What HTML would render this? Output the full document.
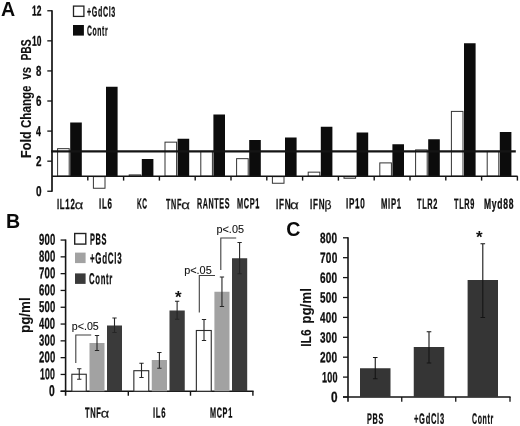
<!DOCTYPE html>
<html><head><meta charset="utf-8"><title>Figure</title>
<style>
html,body{margin:0;padding:0;background:#fff;}
#w{position:relative;width:520px;height:426px;overflow:hidden;will-change:transform;}
svg{display:block;}
text{font-family:'Liberation Sans', sans-serif;fill:#0e0e0e;}
.c{position:absolute;white-space:nowrap;font-family:'Liberation Sans', sans-serif;font-weight:bold;font-size:14.2px;line-height:1;color:#0e0e0e;transform-origin:0 0;-webkit-text-stroke:.3px #0e0e0e;}
.k{display:inline-block;transform-origin:0 50%;font-weight:normal;font-size:12.4px;letter-spacing:0;color:#1a1a1a;-webkit-text-stroke:.25px #1a1a1a;position:relative;top:.2px;}
.pl{font-weight:bold;font-size:19.6px;fill:#0a0a0a;}
.yl{font-size:14.2px;font-weight:bold;fill:#111;stroke:#111;stroke-width:.1px;}
.p{fill:#111;stroke:#111;stroke-width:.1px;}
.st{font-weight:bold;font-size:17px;text-anchor:middle;fill:#111;}
.ax{stroke:#141414;fill:none;}
</style></head>
<body>
<div id="w">
<svg width="520" height="426" viewBox="0 0 520 426">
<rect width="520" height="426" fill="#fff"/>
<text class="pl" x="1.1" y="15.5">A</text>
<line class="ax" x1="52.0" y1="10.17" x2="52.0" y2="191.85" stroke-width="1.7"/>
<line class="ax" x1="47.3" y1="191.25" x2="52.0" y2="191.25" stroke-width="1.3"/>
<line class="ax" x1="47.3" y1="161.17" x2="52.0" y2="161.17" stroke-width="1.3"/>
<line class="ax" x1="47.3" y1="131.09" x2="52.0" y2="131.09" stroke-width="1.3"/>
<line class="ax" x1="47.3" y1="101.01" x2="52.0" y2="101.01" stroke-width="1.3"/>
<line class="ax" x1="47.3" y1="70.93" x2="52.0" y2="70.93" stroke-width="1.3"/>
<line class="ax" x1="47.3" y1="40.85" x2="52.0" y2="40.85" stroke-width="1.3"/>
<line class="ax" x1="47.3" y1="10.77" x2="52.0" y2="10.77" stroke-width="1.3"/>
<rect x="73.5" y="6.1" width="10.4" height="10.3" fill="#fff" stroke="#222" stroke-width="1.3"/>
<rect x="73" y="25" width="10.9" height="10.6" fill="#0c0c0c"/>
<rect x="57.60" y="148.65" width="11.60" height="27.56" fill="#fff" stroke="#333" stroke-width="1"/>
<rect x="70.20" y="122.50" width="11.60" height="53.71" fill="#0c0c0c"/>
<rect x="93.40" y="176.61" width="11.60" height="11.64" fill="#fff" stroke="#333" stroke-width="1"/>
<rect x="106.00" y="86.75" width="11.60" height="89.46" fill="#0c0c0c"/>
<rect x="129.20" y="174.90" width="11.60" height="1.31" fill="#fff" stroke="#333" stroke-width="1"/>
<rect x="141.80" y="159.00" width="11.60" height="17.21" fill="#0c0c0c"/>
<rect x="165.00" y="142.15" width="11.60" height="34.06" fill="#fff" stroke="#333" stroke-width="1"/>
<rect x="177.60" y="138.75" width="11.60" height="37.46" fill="#0c0c0c"/>
<rect x="200.80" y="151.40" width="11.60" height="24.81" fill="#fff" stroke="#333" stroke-width="1"/>
<rect x="213.40" y="114.50" width="11.60" height="61.71" fill="#0c0c0c"/>
<rect x="236.60" y="158.65" width="11.60" height="17.56" fill="#fff" stroke="#333" stroke-width="1"/>
<rect x="249.20" y="140.00" width="11.60" height="36.21" fill="#0c0c0c"/>
<rect x="272.40" y="176.61" width="11.60" height="6.64" fill="#fff" stroke="#333" stroke-width="1"/>
<rect x="285.00" y="137.50" width="11.60" height="38.71" fill="#0c0c0c"/>
<rect x="308.20" y="172.15" width="11.60" height="4.06" fill="#fff" stroke="#333" stroke-width="1"/>
<rect x="320.80" y="126.75" width="11.60" height="49.46" fill="#0c0c0c"/>
<rect x="344.00" y="176.61" width="11.60" height="1.64" fill="#fff" stroke="#333" stroke-width="1"/>
<rect x="356.60" y="132.50" width="11.60" height="43.71" fill="#0c0c0c"/>
<rect x="379.80" y="162.90" width="11.60" height="13.31" fill="#fff" stroke="#333" stroke-width="1"/>
<rect x="392.40" y="144.25" width="11.60" height="31.96" fill="#0c0c0c"/>
<rect x="415.60" y="149.90" width="11.60" height="26.31" fill="#fff" stroke="#333" stroke-width="1"/>
<rect x="428.20" y="139.25" width="11.60" height="36.96" fill="#0c0c0c"/>
<rect x="451.40" y="111.40" width="11.60" height="64.81" fill="#fff" stroke="#333" stroke-width="1"/>
<rect x="464.00" y="43.25" width="11.60" height="132.96" fill="#0c0c0c"/>
<rect x="487.20" y="151.40" width="11.60" height="24.81" fill="#fff" stroke="#333" stroke-width="1"/>
<rect x="499.80" y="132.00" width="11.60" height="44.21" fill="#0c0c0c"/>
<line class="ax" x1="52.0" y1="176.21" x2="517.6" y2="176.21" stroke-width="1.4"/>
<line class="ax" x1="87.80" y1="176.21" x2="87.80" y2="180.61" stroke-width="1.4"/>
<line class="ax" x1="123.60" y1="176.21" x2="123.60" y2="180.61" stroke-width="1.4"/>
<line class="ax" x1="159.40" y1="176.21" x2="159.40" y2="180.61" stroke-width="1.4"/>
<line class="ax" x1="195.20" y1="176.21" x2="195.20" y2="180.61" stroke-width="1.4"/>
<line class="ax" x1="231.00" y1="176.21" x2="231.00" y2="180.61" stroke-width="1.4"/>
<line class="ax" x1="266.80" y1="176.21" x2="266.80" y2="180.61" stroke-width="1.4"/>
<line class="ax" x1="302.60" y1="176.21" x2="302.60" y2="180.61" stroke-width="1.4"/>
<line class="ax" x1="338.40" y1="176.21" x2="338.40" y2="180.61" stroke-width="1.4"/>
<line class="ax" x1="374.20" y1="176.21" x2="374.20" y2="180.61" stroke-width="1.4"/>
<line class="ax" x1="410.00" y1="176.21" x2="410.00" y2="180.61" stroke-width="1.4"/>
<line class="ax" x1="445.80" y1="176.21" x2="445.80" y2="180.61" stroke-width="1.4"/>
<line class="ax" x1="481.60" y1="176.21" x2="481.60" y2="180.61" stroke-width="1.4"/>
<line class="ax" x1="517.40" y1="176.21" x2="517.40" y2="180.61" stroke-width="1.4"/>
<line class="ax" x1="51.2" y1="151.4" x2="515.8" y2="151.4" stroke-width="2.3"/>
<text class="yl" transform="translate(31.2 158) rotate(-90)"><tspan x="0" textLength="26.6" lengthAdjust="spacingAndGlyphs">Fold</tspan> <tspan x="30" textLength="42.5" lengthAdjust="spacingAndGlyphs">Change</tspan> <tspan x="78.5" textLength="12.5" lengthAdjust="spacingAndGlyphs">vs</tspan> <tspan x="97.5" textLength="21" lengthAdjust="spacingAndGlyphs">PBS</tspan></text>
<text class="pl" x="5.9" y="228.2">B</text>
<line class="ax" x1="65.6" y1="239.45" x2="65.6" y2="395.75" stroke-width="1.6"/>
<line class="ax" x1="60.6" y1="391.25" x2="65.6" y2="391.25" stroke-width="1.3"/>
<line class="ax" x1="60.6" y1="374.45" x2="65.6" y2="374.45" stroke-width="1.3"/>
<line class="ax" x1="60.6" y1="357.65" x2="65.6" y2="357.65" stroke-width="1.3"/>
<line class="ax" x1="60.6" y1="340.85" x2="65.6" y2="340.85" stroke-width="1.3"/>
<line class="ax" x1="60.6" y1="324.05" x2="65.6" y2="324.05" stroke-width="1.3"/>
<line class="ax" x1="60.6" y1="307.25" x2="65.6" y2="307.25" stroke-width="1.3"/>
<line class="ax" x1="60.6" y1="290.45" x2="65.6" y2="290.45" stroke-width="1.3"/>
<line class="ax" x1="60.6" y1="273.65" x2="65.6" y2="273.65" stroke-width="1.3"/>
<line class="ax" x1="60.6" y1="256.85" x2="65.6" y2="256.85" stroke-width="1.3"/>
<line class="ax" x1="60.6" y1="240.05" x2="65.6" y2="240.05" stroke-width="1.3"/>
<line class="ax" x1="60.6" y1="391.25" x2="253.6" y2="391.25" stroke-width="1.7"/>
<line class="ax" x1="128.3" y1="391.25" x2="128.3" y2="395.75" stroke-width="1.4"/>
<line class="ax" x1="190.5" y1="391.25" x2="190.5" y2="395.75" stroke-width="1.4"/>
<line class="ax" x1="252.9" y1="391.25" x2="252.9" y2="395.75" stroke-width="1.4"/>
<text class="yl" style="font-size:15px" transform="translate(29.9 333) rotate(-90)" textLength="35.6" lengthAdjust="spacingAndGlyphs">pg/ml</text>
<rect x="74.7" y="233.5" width="11.1" height="10.6" fill="#fff" stroke="#222" stroke-width="1.4"/>
<rect x="75" y="252.6" width="10.6" height="10.5" fill="#a2a2a2"/>
<rect x="75" y="273.4" width="10.6" height="10.5" fill="#3a3a3a"/>
<rect x="71.85" y="374.25" width="14.40" height="17.00" fill="#fff" stroke="#2a2a2a" stroke-width="1.1"/>
<path d="M79.25 368.75V379.25M77.10 368.75H81.40M77.10 379.25H81.40" stroke="#262626" stroke-width="1.1" fill="none"/>
<rect x="89.50" y="343.00" width="15.00" height="48.25" fill="#a2a2a2"/>
<path d="M97.00 335.50V350.50M94.85 335.50H99.15M94.85 350.50H99.15" stroke="#262626" stroke-width="1.1" fill="none"/>
<rect x="107.00" y="325.50" width="15.00" height="65.75" fill="#3a3a3a"/>
<path d="M114.50 318.00V332.50M112.35 318.00H116.65M112.35 332.50H116.65" stroke="#262626" stroke-width="1.1" fill="none"/>
<rect x="133.85" y="370.70" width="14.90" height="20.55" fill="#fff" stroke="#2a2a2a" stroke-width="1.1"/>
<path d="M141.50 363.25V377.50M139.35 363.25H143.65M139.35 377.50H143.65" stroke="#262626" stroke-width="1.1" fill="none"/>
<rect x="151.75" y="360.00" width="15.25" height="31.25" fill="#a2a2a2"/>
<path d="M159.38 352.50V368.25M157.22 352.50H161.53M157.22 368.25H161.53" stroke="#262626" stroke-width="1.1" fill="none"/>
<rect x="169.50" y="310.50" width="15.25" height="80.75" fill="#3a3a3a"/>
<path d="M177.12 301.25V319.25M174.97 301.25H179.28M174.97 319.25H179.28" stroke="#262626" stroke-width="1.1" fill="none"/>
<rect x="196.35" y="330.50" width="14.90" height="60.75" fill="#fff" stroke="#2a2a2a" stroke-width="1.1"/>
<path d="M204.00 319.50V340.50M201.85 319.50H206.15M201.85 340.50H206.15" stroke="#262626" stroke-width="1.1" fill="none"/>
<rect x="214.40" y="291.75" width="15.10" height="99.50" fill="#a2a2a2"/>
<path d="M221.95 277.00V306.50M219.80 277.00H224.10M219.80 306.50H224.10" stroke="#262626" stroke-width="1.1" fill="none"/>
<rect x="232.00" y="258.25" width="15.20" height="133.00" fill="#3a3a3a"/>
<path d="M239.60 242.50V273.75M237.45 242.50H241.75M237.45 273.75H241.75" stroke="#262626" stroke-width="1.1" fill="none"/>
<path d="M75.8 363V335H91.2" stroke="#404040" stroke-width="1.1" fill="none"/>
<path d="M199.3 312.5V275.5H215" stroke="#404040" stroke-width="1.1" fill="none"/>
<path d="M220.8 270V238H236.2" stroke="#404040" stroke-width="1.1" fill="none"/>
<text class="p" transform="translate(71.82 329.90) scale(0.9855 1)" font-size="10.8">p&lt;.05</text>
<text class="p" transform="translate(184.20 273.70) scale(1.0084 1)" font-size="10.8">p&lt;.05</text>
<text class="p" transform="translate(216.51 232.90) scale(1.0046 1)" font-size="10.8">p&lt;.05</text>
<text class="st" x="178.3" y="302.8">*</text>
<text class="pl" x="286.2" y="236.2">C</text>
<line class="ax" x1="348.0" y1="237.20" x2="348.0" y2="401.70" stroke-width="1.6"/>
<line class="ax" x1="343" y1="397.00" x2="348.0" y2="397.00" stroke-width="1.3"/>
<line class="ax" x1="343" y1="377.10" x2="348.0" y2="377.10" stroke-width="1.3"/>
<line class="ax" x1="343" y1="357.20" x2="348.0" y2="357.20" stroke-width="1.3"/>
<line class="ax" x1="343" y1="337.30" x2="348.0" y2="337.30" stroke-width="1.3"/>
<line class="ax" x1="343" y1="317.40" x2="348.0" y2="317.40" stroke-width="1.3"/>
<line class="ax" x1="343" y1="297.50" x2="348.0" y2="297.50" stroke-width="1.3"/>
<line class="ax" x1="343" y1="277.60" x2="348.0" y2="277.60" stroke-width="1.3"/>
<line class="ax" x1="343" y1="257.70" x2="348.0" y2="257.70" stroke-width="1.3"/>
<line class="ax" x1="343" y1="237.80" x2="348.0" y2="237.80" stroke-width="1.3"/>
<line class="ax" x1="343" y1="397.00" x2="510.6" y2="397.00" stroke-width="1.5"/>
<line class="ax" x1="401.75" y1="397.00" x2="401.75" y2="401.70" stroke-width="1.3"/>
<line class="ax" x1="455.75" y1="397.00" x2="455.75" y2="401.70" stroke-width="1.3"/>
<line class="ax" x1="510.0" y1="397.00" x2="510.0" y2="401.70" stroke-width="1.3"/>
<text class="yl" style="font-size:15px" transform="translate(310.6 346.8) rotate(-90)"><tspan x="0" textLength="17.4" lengthAdjust="spacingAndGlyphs">IL6</tspan> <tspan x="23.05" textLength="35.6" lengthAdjust="spacingAndGlyphs">pg/ml</tspan></text>
<rect x="360.00" y="368.25" width="30.50" height="28.75" fill="#353535"/>
<path d="M375.25 357.50V378.75M372.95 357.50H377.55M372.95 378.75H377.55" stroke="#141414" stroke-width="1.1" fill="none"/>
<rect x="413.75" y="347.00" width="30.50" height="50.00" fill="#353535"/>
<path d="M429.00 331.75V363.00M426.70 331.75H431.30M426.70 363.00H431.30" stroke="#141414" stroke-width="1.1" fill="none"/>
<rect x="467.60" y="280.00" width="30.40" height="117.00" fill="#353535"/>
<path d="M482.80 243.75V317.50M480.50 243.75H485.10M480.50 317.50H485.10" stroke="#141414" stroke-width="1.1" fill="none"/>
<text class="st" x="479.4" y="243.1">*</text>
</svg>
<span class="c" style="font-size:14.2px;left:36.05px;top:184px;transform:translateY(0.05px) scaleX(0.7042) rotate(.03deg);letter-spacing:0.00px">0</span>
<span class="c" style="font-size:14.2px;left:36.10px;top:153px;transform:translateY(0.97px) scaleX(0.6954) rotate(.03deg);letter-spacing:0.00px">2</span>
<span class="c" style="font-size:14.2px;left:36.32px;top:123px;transform:translateY(0.89px) scaleX(0.6241) rotate(.03deg);letter-spacing:0.00px">4</span>
<span class="c" style="font-size:14.2px;left:36.09px;top:93px;transform:translateY(0.81px) scaleX(0.6926) rotate(.03deg);letter-spacing:0.00px">6</span>
<span class="c" style="font-size:14.2px;left:36.14px;top:63px;transform:translateY(0.73px) scaleX(0.6785) rotate(.03deg);letter-spacing:0.00px">8</span>
<span class="c" style="font-size:14.2px;left:32.17px;top:33px;transform:translateY(0.65px) scaleX(0.5938) rotate(.03deg);letter-spacing:0.00px">10</span>
<span class="c" style="font-size:14.2px;left:32.17px;top:3px;transform:translateY(0.57px) scaleX(0.5933) rotate(.03deg);letter-spacing:0.00px">12</span>
<span class="c" style="font-size:14.2px;left:87.45px;top:4px;transform:translateY(0.60px) scaleX(0.5010) rotate(.03deg);letter-spacing:1.28px">+GdCl3</span>
<span class="c" style="font-size:14.2px;left:86.97px;top:23px;transform:translateY(0.40px) scaleX(0.4802) rotate(.03deg);letter-spacing:1.28px">Contr</span>
<span class="c" style="font-size:14.6px;left:56.58px;top:196px;transform:translateY(0.90px) scaleX(0.5349) rotate(.03deg);letter-spacing:1.31px">IL12<span class="k" style="margin-left:-1.56px;transform:scaleX(2.2303)">α</span></span>
<span class="c" style="font-size:14.6px;left:99.07px;top:196px;transform:translateY(0.60px) scaleX(0.5468) rotate(.03deg);letter-spacing:1.31px">IL6</span>
<span class="c" style="font-size:14.6px;left:136.56px;top:196px;transform:translateY(0.60px) scaleX(0.4519) rotate(.03deg);letter-spacing:1.31px">KC</span>
<span class="c" style="font-size:14.6px;left:165.67px;top:196px;transform:translateY(0.90px) scaleX(0.4932) rotate(.03deg);letter-spacing:1.31px">TNF<span class="k" style="margin-left:-1.70px;transform:scaleX(2.4348)">α</span></span>
<span class="c" style="font-size:14.6px;left:196.52px;top:196px;transform:translateY(0.20px) scaleX(0.4881) rotate(.03deg);letter-spacing:1.31px">RANTES</span>
<span class="c" style="font-size:14.6px;left:237.01px;top:196px;transform:translateY(0.20px) scaleX(0.5045) rotate(.03deg);letter-spacing:1.31px">MCP1</span>
<span class="c" style="font-size:14.6px;left:275.95px;top:197px;transform:translateY(0.00px) scaleX(0.5580) rotate(.03deg);letter-spacing:1.31px">IFN<span class="k" style="margin-left:-2.26px;transform:scaleX(2.1806)">α</span></span>
<span class="c" style="font-size:14.6px;left:310.06px;top:197px;transform:translateY(0.00px) scaleX(0.5539) rotate(.03deg);letter-spacing:1.31px">IFN<span class="k" style="margin-left:-1.28px;transform:scaleX(1.7771)">β</span></span>
<span class="c" style="font-size:14.6px;left:346.46px;top:196px;transform:translateY(0.20px) scaleX(0.5556) rotate(.03deg);letter-spacing:1.31px">IP10</span>
<span class="c" style="font-size:14.6px;left:380.74px;top:196px;transform:translateY(0.50px) scaleX(0.5255) rotate(.03deg);letter-spacing:1.31px">MIP1</span>
<span class="c" style="font-size:14.6px;left:417.42px;top:196px;transform:translateY(0.70px) scaleX(0.5038) rotate(.03deg);letter-spacing:1.31px">TLR2</span>
<span class="c" style="font-size:14.6px;left:453.67px;top:196px;transform:translateY(0.70px) scaleX(0.5033) rotate(.03deg);letter-spacing:1.31px">TLR9</span>
<span class="c" style="font-size:14.6px;left:483.93px;top:196px;transform:translateY(0.70px) scaleX(0.5836) rotate(.03deg);letter-spacing:1.31px">Myd88</span>
<span class="c" style="font-size:15.6px;left:49.39px;top:382px;transform:translateY(0.95px) scaleX(0.6613) rotate(.03deg);letter-spacing:0.31px">0</span>
<span class="c" style="font-size:15.6px;left:40.05px;top:366px;transform:translateY(0.15px) scaleX(0.5635) rotate(.03deg);letter-spacing:0.31px">100</span>
<span class="c" style="font-size:15.6px;left:38.77px;top:349px;transform:translateY(0.35px) scaleX(0.6127) rotate(.03deg);letter-spacing:0.31px">200</span>
<span class="c" style="font-size:15.6px;left:38.88px;top:332px;transform:translateY(0.55px) scaleX(0.6083) rotate(.03deg);letter-spacing:0.31px">300</span>
<span class="c" style="font-size:15.6px;left:38.96px;top:315px;transform:translateY(0.75px) scaleX(0.6053) rotate(.03deg);letter-spacing:0.31px">400</span>
<span class="c" style="font-size:15.6px;left:38.80px;top:298px;transform:translateY(0.95px) scaleX(0.6112) rotate(.03deg);letter-spacing:0.31px">500</span>
<span class="c" style="font-size:15.6px;left:38.75px;top:282px;transform:translateY(0.15px) scaleX(0.6135) rotate(.03deg);letter-spacing:0.31px">600</span>
<span class="c" style="font-size:15.6px;left:38.69px;top:265px;transform:translateY(0.35px) scaleX(0.6158) rotate(.03deg);letter-spacing:0.31px">700</span>
<span class="c" style="font-size:15.6px;left:38.79px;top:248px;transform:translateY(0.55px) scaleX(0.6116) rotate(.03deg);letter-spacing:0.31px">800</span>
<span class="c" style="font-size:15.6px;left:38.77px;top:231px;transform:translateY(0.75px) scaleX(0.6127) rotate(.03deg);letter-spacing:0.31px">900</span>
<span class="c" style="font-size:15.6px;left:89.50px;top:231px;transform:translateY(0.50px) scaleX(0.4740) rotate(.03deg);letter-spacing:1.40px">PBS</span>
<span class="c" style="font-size:15.6px;left:89.67px;top:250px;transform:translateY(0.40px) scaleX(0.5094) rotate(.03deg);letter-spacing:1.40px">+GdCl3</span>
<span class="c" style="font-size:15.6px;left:89.38px;top:271px;transform:translateY(0.00px) scaleX(0.4943) rotate(.03deg);letter-spacing:1.40px">Contr</span>
<span class="c" style="font-size:14.2px;left:84.92px;top:405px;transform:translateY(0.50px) scaleX(0.5292) rotate(.03deg);letter-spacing:1.28px">TNF<span class="k" style="margin-left:-1.83px;transform:scaleX(2.2243)">α</span></span>
<span class="c" style="font-size:14.2px;left:153.08px;top:405px;transform:translateY(0.50px) scaleX(0.5414) rotate(.03deg);letter-spacing:1.28px">IL6</span>
<span class="c" style="font-size:14.2px;left:210.11px;top:405px;transform:translateY(0.50px) scaleX(0.5127) rotate(.03deg);letter-spacing:1.28px">MCP1</span>
<span class="c" style="font-size:14.8px;left:330.93px;top:390px;transform:translateY(0.10px) scaleX(0.7966) rotate(.03deg);letter-spacing:0.30px">0</span>
<span class="c" style="font-size:14.8px;left:321.93px;top:370px;transform:translateY(0.20px) scaleX(0.6108) rotate(.03deg);letter-spacing:0.30px">100</span>
<span class="c" style="font-size:14.8px;left:320.25px;top:350px;transform:translateY(0.30px) scaleX(0.6790) rotate(.03deg);letter-spacing:0.30px">200</span>
<span class="c" style="font-size:14.8px;left:320.37px;top:330px;transform:translateY(0.40px) scaleX(0.6740) rotate(.03deg);letter-spacing:0.30px">300</span>
<span class="c" style="font-size:14.8px;left:320.45px;top:310px;transform:translateY(0.50px) scaleX(0.6708) rotate(.03deg);letter-spacing:0.30px">400</span>
<span class="c" style="font-size:14.8px;left:320.29px;top:290px;transform:translateY(0.60px) scaleX(0.6773) rotate(.03deg);letter-spacing:0.30px">500</span>
<span class="c" style="font-size:14.8px;left:320.23px;top:270px;transform:translateY(0.70px) scaleX(0.6798) rotate(.03deg);letter-spacing:0.30px">600</span>
<span class="c" style="font-size:14.8px;left:320.17px;top:250px;transform:translateY(0.80px) scaleX(0.6823) rotate(.03deg);letter-spacing:0.30px">700</span>
<span class="c" style="font-size:14.8px;left:320.28px;top:230px;transform:translateY(0.90px) scaleX(0.6777) rotate(.03deg);letter-spacing:0.30px">800</span>
<span class="c" style="font-size:15.0px;left:367.01px;top:410px;transform:translateY(0.70px) scaleX(0.4851) rotate(.03deg);letter-spacing:1.35px">PBS</span>
<span class="c" style="font-size:15.0px;left:413.93px;top:410px;transform:translateY(0.70px) scaleX(0.5041) rotate(.03deg);letter-spacing:1.35px">+GdCl3</span>
<span class="c" style="font-size:15.0px;left:472.21px;top:410px;transform:translateY(0.70px) scaleX(0.4658) rotate(.03deg);letter-spacing:1.35px">Contr</span>
</div>
</body></html>
